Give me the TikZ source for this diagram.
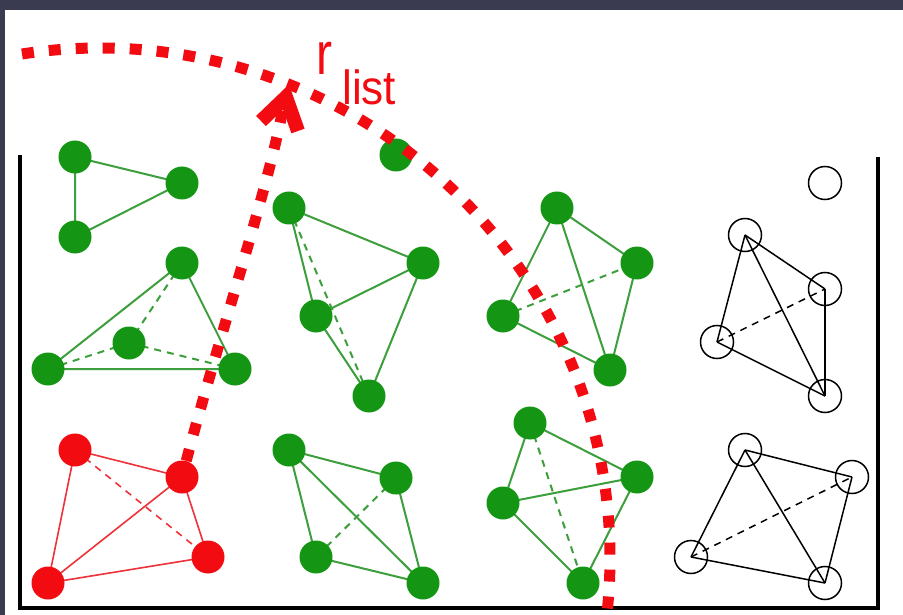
\documentclass[tikz,border=0pt]{standalone}
\usepackage{fontspec}
\setmainfont{Liberation Sans}
\usetikzlibrary{calc}
\definecolor{frame}{RGB}{58,58,80}
\definecolor{pgreen}{RGB}{20,150,20}
\definecolor{lgreen}{RGB}{60,158,60}
\definecolor{pred}{RGB}{242,12,18}
\definecolor{lred}{RGB}{238,50,58}
\pgfdeclarelayer{bg}
\pgfsetlayers{bg,main}
\begin{document}
\begin{tikzpicture}[x=1pt,y=-1pt,
  gp/.style={circle,fill=pgreen,minimum size=33pt,inner sep=0pt},
  rp/.style={circle,fill=pred,minimum size=33pt,inner sep=0pt},
  op/.style={circle,draw=black,line width=1.5pt,minimum size=33pt,inner sep=0pt},
  gb/.style={draw=lgreen,line width=2pt},
  gd/.style={gb,dash pattern=on 7pt off 6pt},
  rb/.style={draw=lred,line width=1.6pt},
  rd/.style={rb,dash pattern=on 7pt off 6pt},
  kb/.style={draw=black,line width=1.5pt},
  kd/.style={kb,dash pattern=on 7pt off 6pt},
  cutoff/.style={draw=pred,line width=11pt,dash pattern=on 12pt off 15pt},
  wall/.style={draw=black,line width=4pt}]

% page and frame, kept beneath the bonds
\begin{pgfonlayer}{bg}
\fill[frame] (0,0) rectangle (903,615);
\fill[white] (5,10) rectangle (903,615);
\end{pgfonlayer}
\useasboundingbox (0,0) rectangle (903,615);

% container walls
\draw[wall] (20,155) -- (20,608) -- (878,608) -- (878,157);

% triangle molecule
\node[gp] (a1) at (75,157) {};
\node[gp] (a2) at (182,183) {};
\node[gp] (a3) at (75,237) {};
% single atom
\node[gp] (s1) at (396,155) {};
% tetrahedra, upper row
\node[gp] (b1) at (182,263) {};
\node[gp] (b2) at (48,369) {};
\node[gp] (b3) at (129,343) {};
\node[gp] (b4) at (235,369) {};
\node[gp] (c1) at (289,208) {};
\node[gp] (c2) at (423,263) {};
\node[gp] (c3) at (316,316) {};
\node[gp] (c4) at (369,396) {};
\node[gp] (d1) at (557,208) {};
\node[gp] (d2) at (637,263) {};
\node[gp] (d3) at (503,316) {};
\node[gp] (d4) at (610,370) {};
\node[op] (s2) at (825,183) {};
\node[op] (e1) at (745,235) {};
\node[op] (e2) at (825,289) {};
\node[op] (e3) at (717,342) {};
\node[op] (e4) at (825,396) {};
% tetrahedra, lower row
\node[rp] (f1) at (75,450) {};
\node[rp] (f2) at (182,477) {};
\node[rp] (f3) at (48,583) {};
\node[rp] (f4) at (208,557) {};
\node[gp] (g1) at (289,450) {};
\node[gp] (g2) at (396,478) {};
\node[gp] (g3) at (316,557) {};
\node[gp] (g4) at (423,583) {};
\node[gp] (h1) at (530,423) {};
\node[gp] (h2) at (637,477) {};
\node[gp] (h3) at (503,503) {};
\node[gp] (h4) at (583,583) {};
\node[op] (k1) at (745,450) {};
\node[op] (k2) at (852,477) {};
\node[op] (k3) at (691,557) {};
\node[op] (k4) at (825,583) {};

% bonds
\begin{pgfonlayer}{bg}
\draw[gb] (a1.center) -- (a2.center) -- (a3.center) -- (a1.center);
\draw[gb] (b1.center) -- (b2.center) -- (b4.center) -- (b1.center);
\draw[gd] (b1.center) -- (b3.center);
\draw[gd] (b2.center) -- (b3.center);
\draw[gd] (b3.center) -- (b4.center);
\draw[gb] (c1.center) -- (c2.center);
\draw[gb] (c1.center) -- (c3.center);
\draw[gb] (c3.center) -- (c2.center);
\draw[gb] (c3.center) -- (c4.center);
\draw[gb] (c2.center) -- (c4.center);
\draw[gd] (c1.center) -- (c4.center);
\draw[gb] (d1.center) -- (d2.center);
\draw[gb] (d1.center) -- (d3.center);
\draw[gb] (d1.center) -- (d4.center);
\draw[gb] (d2.center) -- (d4.center);
\draw[gb] (d3.center) -- (d4.center);
\draw[gd] (d3.center) -- (d2.center);
\draw[kb] (e1.center) -- (e2.center);
\draw[kb] (e1.center) -- (e3.center);
\draw[kb] (e1.center) -- (e4.center);
\draw[kb] (e2.center) -- (e4.center);
\draw[kb] (e3.center) -- (e4.center);
\draw[kd] (e3.center) -- (e2.center);
\draw[rb] (f1.center) -- (f2.center);
\draw[rb] (f1.center) -- (f3.center);
\draw[rb] (f2.center) -- (f3.center);
\draw[rb] (f2.center) -- (f4.center);
\draw[rb] (f3.center) -- (f4.center);
\draw[rd] (f1.center) -- (f4.center);
\draw[gb] (g1.center) -- (g2.center);
\draw[gb] (g1.center) -- (g3.center);
\draw[gb] (g1.center) -- (g4.center);
\draw[gb] (g2.center) -- (g4.center);
\draw[gb] (g3.center) -- (g4.center);
\draw[gd] (g2.center) -- (g3.center);
\draw[gb] (h1.center) -- (h2.center);
\draw[gb] (h1.center) -- (h3.center);
\draw[gb] (h3.center) -- (h2.center);
\draw[gb] (h3.center) -- (h4.center);
\draw[gb] (h2.center) -- (h4.center);
\draw[gd] (h1.center) -- (h4.center);
\draw[kb] (k1.center) -- (k2.center);
\draw[kb] (k1.center) -- (k3.center);
\draw[kb] (k1.center) -- (k4.center);
\draw[kb] (k3.center) -- (k4.center);
\draw[kb] (k2.center) -- (k4.center);
\draw[kd] (k3.center) -- (k2.center);
\end{pgfonlayer}

% cut-off sphere around the red molecule
\coordinate (cs) at (22,54);
\draw[cutoff] (cs) arc[start angle=-98.8, end angle=5.86, radius=510];

% radius arrow with a short, heavy barbed head
\coordinate (tip) at (283,108);
\draw[cutoff] (f2) .. controls (218,340) and (268,190) .. (tip);
\draw[pred,line width=14pt,line join=miter] (261,121) -- (286,97) -- (298,131);

% label
\node[text=pred,anchor=base west,inner sep=0pt] (rlab) at (316,75)
  {\scalebox{0.8}[1]{\fontsize{60}{64}\selectfont r}};
\node[text=pred,anchor=base west,inner sep=0pt] (slab) at (342,105)
  {\scalebox{0.92}[1]{\fontsize{48}{52}\selectfont list}};
\end{tikzpicture}
\end{document}
